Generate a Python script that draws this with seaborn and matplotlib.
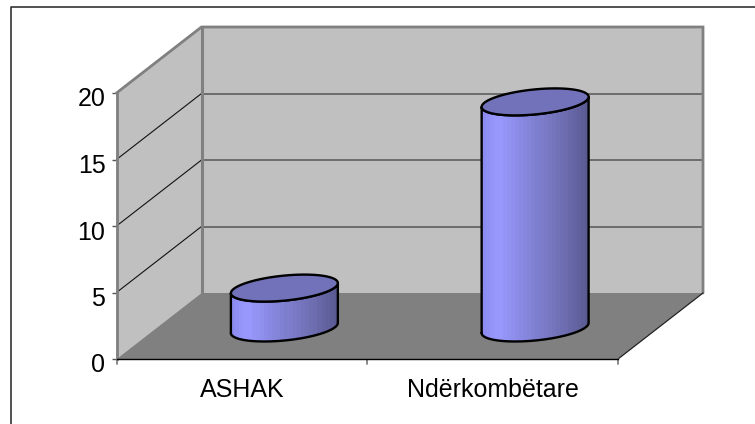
import numpy as np
import pandas as pd
import matplotlib
matplotlib.use("Agg")
import matplotlib.pyplot as plt
import seaborn as sns
from matplotlib.patches import Polygon, PathPatch
from matplotlib.path import Path
from matplotlib.lines import Line2D
from matplotlib.transforms import Affine2D, IdentityTransform, ScaledTranslation
from matplotlib.colors import LinearSegmentedColormap

categories = ["ASHAK", "Ndërkombëtare"]
values = [3, 17]
y_ticks = [0, 5, 10, 15, 20]

W, H = 755, 424
L, R, T, B = 116.5, 618.0, 93.0, 359.0      # front plane, px
DEPTH = (85.0, 66.0)                         # box depth, px (right, up)
BAR_SHIFT = (42.5, 31.0)                     # cylinders stand mid-floor
RIM_U, RIM_VX, RIM_VY = 49.6, 20.0, 13.5     # ellipse axes vectors, px

WALL, EDGE, FLOOR = "#c0c0c0", "#808080", "#808080"
CAP = "#7272ba"
grad = LinearSegmentedColormap.from_list(
    "cyl", [(0, "#8c8cf0"), (0.14, "#9999ff"), (0.5, "#8080d2"),
            (0.8, "#6c6cae"), (1, "#5a5a92")], N=26)

sns.set_theme(style="white")
plt.rcParams["font.family"] = ["Liberation Sans", "DejaVu Sans"]

fig = plt.figure(figsize=(W / 100, H / 100), dpi=100, facecolor="white")
ax = fig.add_axes([L / W, 1 - B / H, (R - L) / W, (B - T) / H])
ax.patch.set_visible(False)

df = pd.DataFrame({"cat": categories, "val": values})
bar_w = 107 / ((R - L) / 2)
sns.barplot(data=df, x="cat", y="val", color="#8080d2", width=bar_w,
            saturation=1, ax=ax, zorder=5)
ax.set_xlim(-0.5, 1.5)
ax.set_ylim(0, 20)
ax.set_xlabel("")
ax.set_ylabel("")
bars = list(ax.patches)

# ---- outer frame (only left and top are inside the crop)
fig.add_artist(Line2D([11 / W, 11 / W, 1], [0, 1 - 7 / H, 1 - 7 / H],
                      color="#333333", lw=1.2, transform=fig.transFigure))

back = ax.transData + Affine2D().translate(*DEPTH)
x0, x1 = ax.get_xlim()
y0, y1 = ax.get_ylim()

def to_px(tr, pts):
    return tr.transform(np.asarray(pts, dtype=float))

idt = IdentityTransform()
def add_poly(pts, **kw):
    ax.add_patch(Polygon(pts, closed=True, transform=idt, clip_on=False, **kw))
def add_line(pts, **kw):
    p = np.asarray(pts)
    ax.add_line(Line2D(p[:, 0], p[:, 1], transform=idt, clip_on=False, **kw))

# walls and floor
fl, fh = to_px(ax.transData, [(x0, y0), (x0, y1)])
bl, bh = to_px(back, [(x0, y0), (x0, y1)])
fr = to_px(ax.transData, [(x1, y0)])[0]
br, brh = to_px(back, [(x1, y0), (x1, y1)])
add_poly([bl, bh, brh, br], fc=WALL, ec="none", zorder=1)
add_poly([fl, fh, bh, bl], fc=WALL, ec="none", zorder=1)
add_poly([fl, bl, br, fr], fc=FLOOR, ec="none", zorder=1.5)

# gridlines on side and back wall
for v in y_ticks[1:-1]:
    a = to_px(ax.transData, [(x0, v)])[0]
    b = to_px(back, [(x0, v)])[0]
    c = to_px(back, [(x1, v)])[0]
    add_line([a, b], color="#111111", lw=0.8, zorder=2)
    add_line([b, c], color="#555555", lw=1.1, zorder=2)

# wall edges
add_line([fh, bh, brh, br], color=EDGE, lw=2.0, zorder=2.5, solid_joinstyle="miter")
add_line([bl, bh], color=EDGE, lw=2.2, zorder=2.5)
add_line([fr, br], color="#222222", lw=0.9, zorder=2.5)

# ---- cylinders built from the seaborn bars
t = np.linspace(0, 2 * np.pi, 181)
def rim(cx, cy, tt):
    return np.column_stack([cx + RIM_U * np.cos(tt) + RIM_VX * np.sin(tt),
                            cy + RIM_VY * np.sin(tt)])

shift = ax.transData + Affine2D().translate(*BAR_SHIFT)
phase = np.arctan2(RIM_VX, RIM_U)
tt = np.linspace(phase + np.pi, phase + 2 * np.pi, 91)   # front half of rim
for bar in bars:
    (xa, ya), (xb, yb) = to_px(shift, [(bar.get_x(), 0),
                                       (bar.get_x() + bar.get_width(), bar.get_height())])
    cx = (xa + xb) / 2
    low = rim(cx, ya, tt)
    top_front = rim(cx, yb, tt)
    outline = np.vstack([low, top_front[::-1]])
    body = PathPatch(Path(np.vstack([outline, outline[:1]])), transform=idt,
                     fc="none", ec="none", clip_on=False, zorder=6)
    ax.add_patch(body)
    bar.set_transform(shift)
    bar.set_edgecolor("none")
    bar.set_clip_path(body)
    im = ax.imshow(np.linspace(0, 1, 26)[None, :], cmap=grad, aspect="auto",
                   extent=(xa, xb, ya - 20, yb + 20), transform=idt,
                   zorder=6, interpolation="nearest")
    im.set_clip_path(body)
    add_line(np.vstack([outline, outline[:1]]), color="black", lw=1.7, zorder=7,
             solid_joinstyle="round")
    ax.add_patch(Polygon(rim(cx, yb, t), closed=True, transform=idt, fc=CAP,
                         ec="black", lw=1.7, clip_on=False, zorder=8))

ax.set_xlim(x0, x1)
ax.set_ylim(y0, y1)

# ---- axes
for s in ("top", "right"):
    ax.spines[s].set_visible(False)
ax.spines["left"].set_visible(True)
ax.spines["left"].set_color(EDGE)
ax.spines["left"].set_linewidth(2.0)
ax.spines["bottom"].set_visible(True)
ax.spines["bottom"].set_color("black")
ax.spines["bottom"].set_linewidth(1.0)
ax.spines["left"].set_zorder(3)
ax.spines["bottom"].set_zorder(3)
ax.set_yticks(y_ticks)
ax.set_xticks([0, 1])
ax.set_xticklabels(categories)
ax.tick_params(axis="y", length=3.5, width=1, color="#555555", pad=4.5,
               labelsize=18, labelcolor="black", left=True)
ax.tick_params(axis="x", length=0, pad=14, labelsize=18, labelcolor="black")
down = ScaledTranslation(0, -4 / 100, fig.dpi_scale_trans)
for lab in ax.get_yticklabels():
    lab.set_transform(lab.get_transform() + down)
for xt in (x0, 0.5, x1):
    a = to_px(ax.transData, [(xt, y0)])[0]
    add_line([a, a - np.array([0, 5])], color=EDGE, lw=1.3, zorder=3)

fig.savefig("out.png", dpi=100)
